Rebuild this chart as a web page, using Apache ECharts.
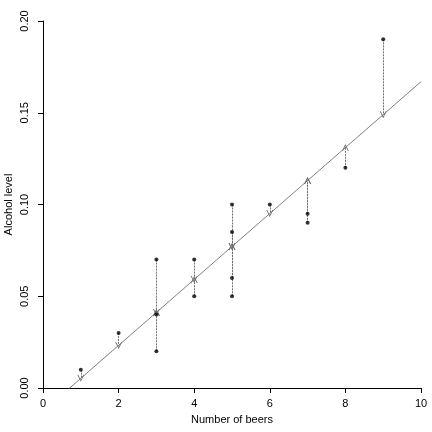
<!DOCTYPE html>
<html>
<head>
<meta charset="utf-8">
<script src="https://cdn.jsdelivr.net/npm/echarts@6/dist/echarts.min.js"></script>
<style>
html, body { margin: 0; padding: 0; background: #fff; }
#main { width: 432px; height: 432px; }
</style>
</head>
<body>
<div id="main"></div>
<script>
// beers drunk and blood alcohol level, one entry per student
var beers = [5, 2, 9, 8, 3, 7, 3, 5, 3, 5, 4, 6, 5, 7, 1, 4];
var bac = [0.10, 0.03, 0.19, 0.12, 0.04, 0.095, 0.07, 0.06, 0.02, 0.05, 0.07, 0.10, 0.085, 0.09, 0.01, 0.05];
var xTicks = [0, 2, 4, 6, 8, 10];
var yTicks = [0.00, 0.05, 0.10, 0.15, 0.20];

var dom = document.getElementById("main");
var myChart = echarts.init(dom);

// least squares fit
var n = beers.length, mx = 0, my = 0;
for (var i = 0; i < n; i++) { mx += beers[i]; my += bac[i]; }
mx /= n; my /= n;
var sxy = 0, sxx = 0;
for (var i = 0; i < n; i++) {
    sxy += (beers[i] - mx) * (bac[i] - my);
    sxx += (beers[i] - mx) * (beers[i] - mx);
}
var slope = sxy / sxx;
var icpt = my - slope * mx;
function fit(x) { return icpt + slope * x; }

var points = [], resid = [];
for (var i = 0; i < n; i++) {
    points.push([beers[i], bac[i]]);
    resid.push({ coords: [[beers[i], bac[i]], [beers[i], fit(beers[i])]] });
}

var chevron = 'path://M0,10 L5,0 L10,10 L8.6,10 L5,2.6 L1.4,10 Z';
var font = 'Liberation Sans, Arial, sans-serif';

var option = {
    animation: false,
    backgroundColor: '#fff',
    grid: { left: 43, right: 11, top: 21, bottom: 44, containLabel: false, outerBoundsMode: 'none' },
    xAxis: {
        type: 'value', min: xTicks[0], max: xTicks[xTicks.length - 1], interval: 2,
        name: 'Number of beers', nameLocation: 'middle', nameGap: 26,
        nameTextStyle: { color: '#000', fontSize: 11, fontFamily: font },
        axisLine: { onZero: false, lineStyle: { color: '#000', width: 1 } },
        axisTick: { inside: false, length: 5, lineStyle: { color: '#000' } },
        axisLabel: { color: '#000', fontSize: 11, fontFamily: font, margin: 10 },
        splitLine: { show: false }
    },
    yAxis: {
        type: 'value', min: yTicks[0], max: yTicks[yTicks.length - 1], interval: 0.05,
        name: 'Alcohol level', nameLocation: 'middle', nameGap: 29, nameRotate: 90,
        nameMoveOverlap: false,
        nameTextStyle: { color: '#000', fontSize: 11, fontFamily: font },
        axisLine: { onZero: false, lineStyle: { color: '#000', width: 1 } },
        axisTick: { inside: false, length: 5, lineStyle: { color: '#000' } },
        axisLabel: {
            color: '#000', fontSize: 11, fontFamily: font, rotate: 90, margin: 13,
            formatter: function (v) { return v.toFixed(2); }
        },
        splitLine: { show: false }
    },
    series: [
        {
            name: 'fit',
            type: 'line',
            clip: true,
            data: [[xTicks[0], fit(xTicks[0])], [xTicks[xTicks.length - 1], fit(xTicks[xTicks.length - 1])]],
            showSymbol: false,
            symbol: 'none',
            lineStyle: { color: '#808080', width: 1 },
            z: 2
        },
        {
            name: 'residuals',
            type: 'lines',
            coordinateSystem: 'cartesian2d',
            data: resid,
            symbol: ['none', chevron],
            symbolSize: [0, 7],
            lineStyle: { color: '#707070', width: 1, type: [2, 1], opacity: 1 },
            z: 3
        },
        {
            name: 'students',
            type: 'scatter',
            data: points,
            symbol: 'circle',
            symbolSize: 4,
            itemStyle: { color: '#000' },
            z: 4
        }
    ]
};

if (option && typeof option == "object") {
    myChart.setOption(option, true);
}
</script>
</body>
</html>
